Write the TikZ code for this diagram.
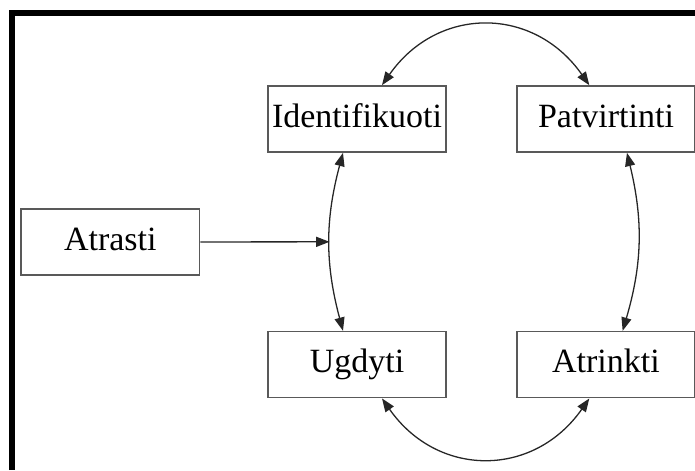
\documentclass[tikz,border=0pt]{standalone}
\usepackage{fontspec}
\setmainfont{Liberation Serif}
\usetikzlibrary{positioning, arrows.meta}

\begin{document}
\begin{tikzpicture}[
  node distance = 5.34cm and 2.07cm,
  stage/.style = {rectangle, draw=black!65, line width=1.4pt, minimum width=5.35cm,
                  minimum height=1.98cm, inner sep=0pt, text height=0.68cm, text depth=0.2cm,
                  font=\fontsize{29}{34}\selectfont},
  link/.style  = {line width=1.1pt, draw=black!85},
  >={Triangle[length=0.4cm, width=0.3cm]}
]
\useasboundingbox (-10.71,-10.53) rectangle (10.14,3.57);
% Frame
\draw[line width=5pt] (-10.35,-10.53) |- (10.14,3.18);
% Cycle
\node[stage] (ident) {Identifikuoti};
\node[stage, right=of ident] (patv) {Patvirtinti};
\node[stage, below=of ident] (ugdyti) {Ugdyti};
\node[stage, right=of ugdyti] (atrinkti) {Atrinkti};
% Entry
\node[stage, left=2cm of ident, yshift=-3.69cm] (atrasti) {Atrasti};
% Arcs
\draw[link, <->] ([xshift=0.75cm]ident.north) to[out=55, in=125, looseness=1.2] ([xshift=-0.5cm]patv.north);
\draw[link, <->] ([xshift=0.75cm]ugdyti.south) to[out=-55, in=-125, looseness=1.2] ([xshift=-0.5cm]atrinkti.south);
\draw[link, <->] ([xshift=-0.42cm]ident.south) to[bend right=15] coordinate[pos=0.5] (meet) ([xshift=-0.42cm]ugdyti.north);
\draw[link, <->] ([xshift=0.63cm]patv.south) to[bend left=15] ([xshift=0.5cm]atrinkti.north);
% Atrasti -> cycle
\draw[link, ->] (atrasti) -- (meet);
\end{tikzpicture}
\end{document}
